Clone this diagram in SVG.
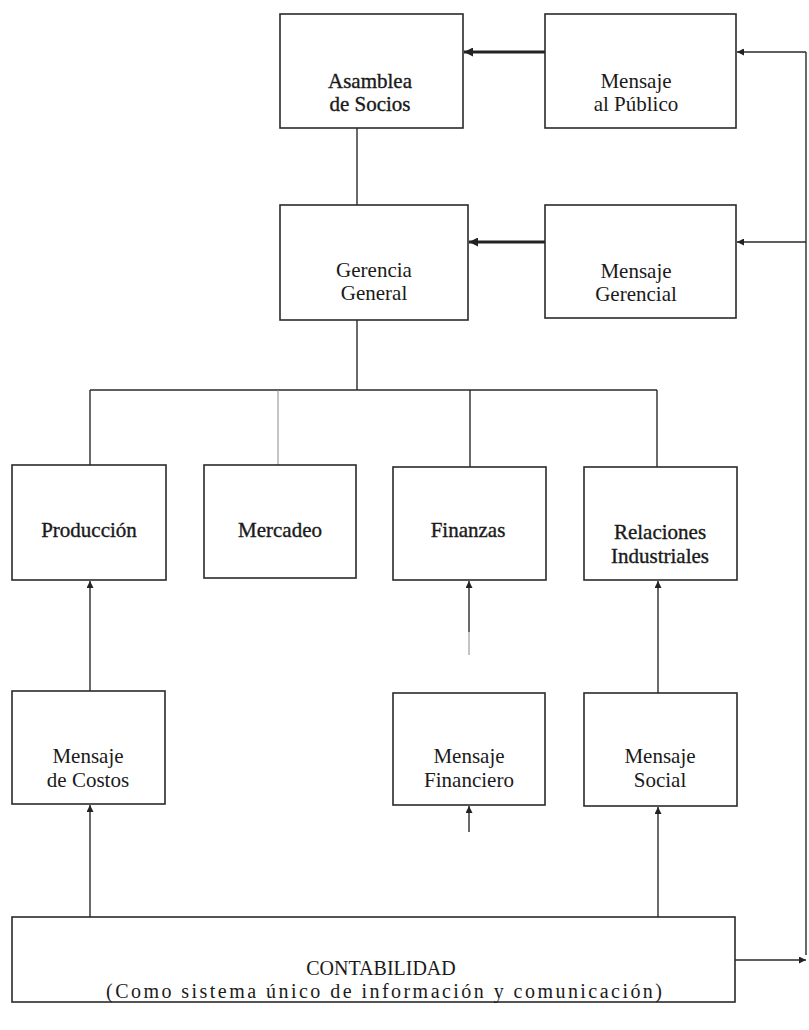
<svg xmlns="http://www.w3.org/2000/svg" width="809" height="1030" viewBox="0 0 809 1030">
<style>
.box{fill:#fff;stroke:#2a2a2a;stroke-width:1.6}
.t{font-family:"Liberation Serif","Times New Roman",serif;font-size:21px;fill:#1a1a1a;text-anchor:middle}
.d{stroke:#1a1a1a;stroke-width:0.35}
.c{fill:none;stroke:#2a2a2a;stroke-width:1.4}
.thick{fill:none;stroke:#222;stroke-width:3.2}
.faint{fill:none;stroke:#888;stroke-width:1}
</style>
<defs>
<marker id="ah" viewBox="0 0 10 10" refX="10" refY="5" markerWidth="7" markerHeight="7" markerUnits="userSpaceOnUse" orient="auto">
<path d="M0,0 L10,5 L0,10 z" fill="#222"/>
</marker>
<marker id="ahs" viewBox="0 0 10 10" refX="10" refY="5" markerWidth="9" markerHeight="9" markerUnits="userSpaceOnUse" orient="auto">
<path d="M0,0 L10,5 L0,10 z" fill="#222"/>
</marker>
</defs>
<rect width="809" height="1030" fill="#fff"/>
<g id="connectors">
<line class="thick" x1="545" y1="52" x2="464" y2="52" marker-end="url(#ahs)"/>
<line class="thick" x1="545" y1="242" x2="469" y2="242" marker-end="url(#ahs)"/>
<line class="c" x1="357" y1="128" x2="357" y2="205"/>
<line class="c" x1="357" y1="320" x2="357" y2="390"/>
<line class="c" x1="90" y1="390" x2="657" y2="390"/>
<line class="c" x1="90" y1="390" x2="90" y2="465"/>
<line class="faint" x1="278" y1="390" x2="278" y2="465"/>
<line class="c" x1="470" y1="390" x2="470" y2="467"/>
<line class="c" x1="657" y1="390" x2="657" y2="468"/>
<line class="c" x1="90" y1="691" x2="90" y2="581" marker-end="url(#ah)"/>
<line class="c" x1="90" y1="917" x2="90" y2="805" marker-end="url(#ah)"/>
<line class="c" x1="469" y1="632" x2="469" y2="581" marker-end="url(#ah)"/>
<line class="faint" x1="469" y1="632" x2="469" y2="655" stroke="#ccc"/>
<line class="c" x1="469" y1="832" x2="469" y2="806" marker-end="url(#ah)"/>
<line class="c" x1="658" y1="693" x2="658" y2="581" marker-end="url(#ah)"/>
<line class="c" x1="658" y1="917" x2="658" y2="807" marker-end="url(#ah)"/>
<line class="c" x1="735" y1="960" x2="806" y2="960" marker-end="url(#ah)"/>
<line class="c" x1="806" y1="52" x2="806" y2="955"/>
<line class="c" x1="806" y1="52" x2="737" y2="52" marker-end="url(#ah)"/>
<line class="c" x1="806" y1="242" x2="737" y2="242" marker-end="url(#ah)"/>
</g>
<g id="asamblea">
<rect class="box" x="280" y="14" width="183" height="114"/>
<text class="t d" x="370" y="88">Asamblea</text>
<text class="t d" x="370" y="111">de Socios</text>
</g>
<g id="mensaje-publico">
<rect class="box" x="545" y="14" width="191" height="114"/>
<text class="t" x="636" y="88">Mensaje</text>
<text class="t" x="636" y="111">al Público</text>
</g>
<g id="gerencia">
<rect class="box" x="280" y="205" width="188" height="115"/>
<text class="t" x="374" y="277">Gerencia</text>
<text class="t" x="374" y="300">General</text>
</g>
<g id="mensaje-gerencial">
<rect class="box" x="545" y="205" width="191" height="113"/>
<text class="t" x="636" y="278">Mensaje</text>
<text class="t" x="636" y="301">Gerencial</text>
</g>
<g id="produccion">
<rect class="box" x="12" y="465" width="154" height="115"/>
<text class="t d" x="89" y="537">Producción</text>
</g>
<g id="mercadeo">
<rect class="box" x="204" y="465" width="152" height="113"/>
<text class="t d" x="280" y="537">Mercadeo</text>
</g>
<g id="finanzas">
<rect class="box" x="393" y="467" width="153" height="113"/>
<text class="t d" x="468" y="537">Finanzas</text>
</g>
<g id="relaciones">
<rect class="box" x="584" y="467" width="153" height="113"/>
<text class="t d" x="660" y="539">Relaciones</text>
<text class="t d" x="660" y="563">Industriales</text>
</g>
<g id="mensaje-costos">
<rect class="box" x="12" y="691" width="153" height="113"/>
<text class="t" x="88" y="763">Mensaje</text>
<text class="t" x="88" y="787">de Costos</text>
</g>
<g id="mensaje-financiero">
<rect class="box" x="393" y="693" width="152" height="112"/>
<text class="t" x="469" y="763">Mensaje</text>
<text class="t" x="469" y="787">Financiero</text>
</g>
<g id="mensaje-social">
<rect class="box" x="584" y="693" width="153" height="113"/>
<text class="t" x="660" y="763">Mensaje</text>
<text class="t" x="660" y="787">Social</text>
</g>
<g id="contabilidad">
<rect class="box" x="12" y="917" width="723" height="85"/>
<text class="t" x="381" y="975" style="font-size:20px">CONTABILIDAD</text>
<text class="t" x="384" y="998" style="font-size:20px" textLength="556" lengthAdjust="spacing">(Como  sistema único de información y comunicación)</text>
</g>
</svg>
